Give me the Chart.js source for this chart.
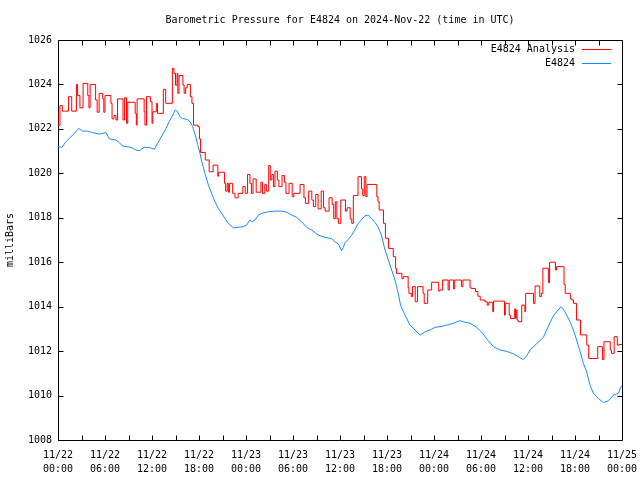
<!DOCTYPE html>
<html><head><meta charset="utf-8">
<script src="https://cdn.jsdelivr.net/npm/chart.js@4.4.1/dist/chart.umd.min.js"></script>
<style>html,body{margin:0;padding:0;background:#fff}canvas{display:block}</style>
</head><body>
<canvas id="c" width="640" height="480"></canvas>
<script>
const titleText = 'Barometric Pressure for E4824 on 2024-Nov-22 (time in UTC)';
const yAxisTitle = 'milliBars';
const seriesNames = ['E4824 Analysis', 'E4824'];
const seriesColors = ['#ff0000', '#1a8cff'];
const xTickHours = [0, 6, 12, 18, 24, 30, 36, 42, 48, 54, 60, 66, 72];
const xTickLabels = [
  ['11/22','00:00'], ['11/22','06:00'], ['11/22','12:00'], ['11/22','18:00'],
  ['11/23','00:00'], ['11/23','06:00'], ['11/23','12:00'], ['11/23','18:00'],
  ['11/24','00:00'], ['11/24','06:00'], ['11/24','12:00'], ['11/24','18:00'],
  ['11/25','00:00']
];
const xMinorHours = [3, 9, 15, 21, 27, 33, 39, 45, 51, 57, 63, 69];
const yTickValues = [1008, 1010, 1012, 1014, 1016, 1018, 1020, 1022, 1024, 1026];

// E4824 Analysis (hours since 11/22 00:00 UTC, stepped)
const redHours = [
  0.0, 0.25, 0.55, 1.35, 1.75, 2.35, 2.5, 2.8, 3.2, 3.8, 3.95, 4.1, 4.8, 5.0, 5.25, 5.7, 5.85, 6.0,
  6.75, 6.9, 7.15, 7.4, 7.6, 8.3, 8.5, 8.75, 8.9, 9.85, 10.0, 10.1, 11.0, 11.1, 11.3, 11.8, 12.0, 12.1,
  12.55, 12.7, 13.45, 13.75, 14.6, 14.8, 15.0, 15.2, 15.3, 15.45, 15.95, 16.1, 16.3, 16.5, 16.9, 17.1,
  17.3, 17.85, 18.05, 18.2, 18.8, 19.3, 19.8, 20.4, 20.5, 21.25, 21.4, 21.6, 21.75, 21.9, 22.3, 22.6,
  23.0, 23.6, 23.9, 24.2, 24.5, 24.7, 24.9, 25.3, 25.9, 26.1, 26.4, 26.6, 26.9, 27.1, 27.3, 27.5,
  27.7, 28.0, 28.2, 28.6, 28.9, 29.1, 29.5, 29.9, 30.1, 30.9, 31.4, 31.6, 32.0, 32.4, 32.6, 32.9,
  33.2, 33.6, 33.9, 34.1, 34.6, 35.0, 35.2, 35.4, 35.6, 35.8, 36.1, 36.7, 36.9, 37.3, 37.5, 37.7,
  38.3, 38.75, 38.9, 39.1, 39.3, 39.45, 40.7, 40.85, 41.0, 41.55, 41.8, 42.2, 42.8, 43.1, 43.2, 43.9,
  44.1, 44.7, 44.8, 45.1, 45.25, 45.6, 45.9, 46.6, 46.75, 47.2, 47.7, 48.6, 48.75, 49.1, 49.8, 49.95,
  50.5, 50.65, 51.5, 51.7, 52.6, 52.75, 53.3, 53.6, 53.9, 54.5, 54.8, 55.0, 55.5, 55.6, 57.0, 57.1,
  57.6, 57.75, 58.3, 58.4, 58.5, 58.6, 58.75, 59.2, 59.6, 59.7, 60.7, 60.9, 61.5, 61.7, 61.9, 62.6,
  62.75, 63.5, 63.65, 64.6, 64.75, 65.4, 65.6, 65.8, 66.2, 66.7, 67.5, 67.75, 68.9, 69.5, 69.7, 70.5,
  70.65, 71.0, 71.4, 71.6, 72.0
];
const redValues = [
  1022.8, 1022.15, 1023.05, 1022.8, 1023.45, 1022.8, 1024.0, 1023.5, 1022.95, 1024.05, 1023.5, 1022.95, 1024.0, 1023.3, 1022.75, 1023.6, 1023.35, 1022.75,
  1023.5, 1023.15, 1022.45, 1022.6, 1022.4, 1023.35, 1022.4, 1023.4, 1022.25, 1023.2, 1022.7, 1022.17, 1023.35, 1022.77, 1022.17, 1023.45, 1023.22, 1022.25,
  1022.77, 1023.15, 1022.7, 1023.78, 1023.15, 1024.73, 1024.5, 1023.97, 1024.5, 1023.6, 1024.4, 1023.97, 1023.6, 1023.85, 1024.0, 1023.45,
  1023.15, 1022.17, 1022.1, 1021.55, 1020.94, 1020.6, 1020.07, 1020.37, 1019.87, 1020.05, 1019.55, 1019.2, 1019.55, 1019.15, 1019.55, 1019.1,
  1018.9, 1019.1, 1019.4, 1019.1, 1019.95, 1019.55, 1019.1, 1019.75, 1019.15, 1019.6, 1019.1, 1019.5, 1019.2, 1020.35, 1019.7, 1019.95,
  1019.4, 1020.1, 1019.7, 1019.4, 1019.9, 1019.6, 1019.1, 1019.55, 1018.95, 1019.1, 1019.5, 1018.9, 1018.65, 1019.2, 1018.8, 1018.5,
  1019.05, 1018.4, 1019.2, 1018.45, 1018.3, 1018.9, 1018.6, 1017.97, 1018.72, 1017.97, 1017.75, 1018.8, 1018.3, 1018.45, 1017.95, 1017.75,
  1019.0, 1019.85, 1019.3, 1019.0, 1019.85, 1018.95, 1019.5, 1018.95, 1018.72, 1018.35, 1017.75, 1017.08, 1016.62, 1016.25, 1015.72, 1015.5,
  1015.27, 1015.35, 1014.85, 1014.6, 1014.45, 1014.9, 1014.22, 1014.9, 1014.6, 1014.15, 1014.75, 1015.1, 1014.7, 1014.75, 1015.2, 1014.75,
  1015.2, 1014.8, 1015.2, 1014.9, 1015.2, 1014.85, 1014.82, 1014.68, 1014.47, 1014.3, 1014.22, 1014.07, 1014.2, 1013.77, 1014.25, 1013.62,
  1014.15, 1013.62, 1013.47, 1013.9, 1013.47, 1013.85, 1013.4, 1013.32, 1014.07, 1013.77, 1014.6, 1014.15, 1014.93, 1014.45, 1014.6, 1015.73,
  1015.08, 1016.0, 1015.65, 1015.8, 1015.0, 1014.6, 1014.35, 1014.3, 1014.15, 1013.4, 1012.73, 1012.27, 1011.67, 1012.2, 1011.62, 1012.42,
  1012.05, 1011.9, 1012.65, 1012.27, 1012.3
];

// E4824 observations
const blueHours = [
  0, 0.5, 1.0, 1.66, 2.3, 2.64, 3.15, 3.79, 4.43, 5.28, 6.13, 6.55, 7.4, 7.83, 8.25, 9.32, 9.96, 10.4,
  11.0, 11.66, 12.3, 12.72, 13.15, 13.79, 14.2, 14.64, 14.98, 15.28, 15.57, 15.9, 16.55, 16.85, 17.2, 17.53,
  17.83, 18.13, 18.34, 18.76, 19.19, 19.6, 20.04, 20.47, 20.89, 21.32, 21.74, 22.38, 23.02, 23.66, 24.08, 24.5,
  24.8, 25.15, 25.57, 26.0, 26.85, 27.7, 28.55, 29.19, 29.83, 30.47, 31.1, 31.75, 32.38, 33.23, 34.09, 34.94,
  35.36, 35.79, 36.2, 36.43, 36.64, 37.06, 37.49, 37.91, 38.34, 38.76, 39.19, 39.62, 40.04, 40.47, 40.89, 41.32,
  41.74, 42.17, 42.6, 43.02, 43.44, 43.74, 44.3, 44.94, 45.58, 46.22, 46.85, 47.49, 48.13, 48.77, 49.62, 50.47,
  51.32, 51.75, 52.6, 53.45, 54.09, 54.73, 55.58, 56.43, 57.28, 58.13, 58.77, 59.4, 59.83, 60.26, 60.9, 61.53,
  61.96, 62.38, 62.81, 63.24, 63.66, 64.22, 64.51, 64.94, 65.36, 65.79, 66.21, 66.64, 67.07, 67.5, 67.92, 68.35,
  68.99, 69.62, 70.26, 70.9, 71.54, 71.84, 72.0
];
const blueValues = [
  1021.2, 1021.17, 1021.42, 1021.65, 1021.87, 1022.02, 1021.9, 1021.9, 1021.83, 1021.77, 1021.83, 1021.55, 1021.5, 1021.38, 1021.23, 1021.17, 1021.05, 1021.02,
  1021.17, 1021.17, 1021.08, 1021.35, 1021.62, 1022.02, 1022.33, 1022.62, 1022.85, 1022.77, 1022.55, 1022.47, 1022.42, 1022.33, 1022.1, 1021.72,
  1021.3, 1020.9, 1020.55, 1020.0, 1019.48, 1019.1, 1018.72, 1018.42, 1018.2, 1017.97, 1017.75, 1017.55, 1017.57, 1017.6, 1017.67, 1017.9,
  1017.82, 1017.9, 1018.12, 1018.2, 1018.27, 1018.3, 1018.3, 1018.25, 1018.12, 1018.02, 1017.82, 1017.57, 1017.45, 1017.22, 1017.12, 1017.06,
  1016.92, 1016.82, 1016.52, 1016.67, 1016.88, 1017.03, 1017.22, 1017.47, 1017.75, 1017.92, 1018.09, 1018.12, 1017.97, 1017.79, 1017.57, 1017.18,
  1016.55, 1016.1, 1015.65, 1015.2, 1014.6, 1014.05, 1013.62, 1013.17, 1012.95, 1012.72, 1012.87, 1012.95, 1013.07, 1013.1, 1013.17, 1013.25,
  1013.37, 1013.32, 1013.25, 1013.07, 1012.85, 1012.55, 1012.2, 1012.05, 1011.99, 1011.88, 1011.75, 1011.62, 1011.78, 1012.05, 1012.27, 1012.47,
  1012.62, 1012.95, 1013.28, 1013.58, 1013.77, 1014.0, 1013.88, 1013.62, 1013.32, 1012.95, 1012.5, 1012.0, 1011.45, 1011.05, 1010.47, 1010.1,
  1009.87, 1009.68, 1009.77, 1010.02, 1010.1, 1010.37, 1010.45
];

const FONT = "'DejaVu Sans Mono', 'Liberation Mono', monospace";
Chart.defaults.font.family = FONT;
Chart.defaults.font.size = 10;
Chart.defaults.color = '#000';

const toXY = (xs, ys) => xs.map((x, i) => ({x: x, y: ys[i]}));

const framePlugin = {
  id: 'frame',
  beforeDatasetsDraw(chart) {
    const ctx = chart.ctx, a = chart.chartArea;
    const xs = chart.scales.x, ys = chart.scales.y;
    const L = 5;
    ctx.save();
    ctx.strokeStyle = '#000';
    ctx.lineWidth = 1;
    ctx.beginPath();
    const l = Math.round(a.left) + 0.5, r = Math.round(a.right) + 0.5;
    const t = Math.round(a.top) + 0.5, b = Math.round(a.bottom) + 0.5;
    ctx.rect(l, t, r - l, b - t);
    xTickHours.concat(xMinorHours).forEach(h => {
      const px = Math.round(xs.getPixelForValue(h)) + 0.5;
      ctx.moveTo(px, b); ctx.lineTo(px, b - L);
      ctx.moveTo(px, t); ctx.lineTo(px, t + L);
    });
    yTickValues.forEach(v => {
      const py = Math.round(ys.getPixelForValue(v)) + 0.5;
      ctx.moveTo(l, py); ctx.lineTo(l + L, py);
      ctx.moveTo(r, py); ctx.lineTo(r - L, py);
    });
    ctx.stroke();
    ctx.restore();
  },
  afterDraw(chart) {
    const ctx = chart.ctx;
    ctx.save();
    ctx.font = '10px ' + FONT;
    ctx.textAlign = 'right';
    ctx.textBaseline = 'middle';
    chart.data.datasets.forEach((ds, i) => {
      const y = 49 + i * 14;
      ctx.fillStyle = '#000';
      ctx.fillText(ds.label, 575, y);
      ctx.fillStyle = seriesColors[i];
      ctx.fillRect(582, y, 29, 1);
    });
    ctx.restore();
  }
};

new Chart(document.getElementById('c'), {
  type: 'line',
  data: {
    datasets: [
      { label: seriesNames[0], data: toXY(redHours, redValues), borderColor: seriesColors[0],
        borderWidth: 1, pointRadius: 0, stepped: 'after', fill: false },
      { label: seriesNames[1], data: toXY(blueHours, blueValues), borderColor: seriesColors[1],
        borderWidth: 1, pointRadius: 0, tension: 0, fill: false }
    ]
  },
  options: {
    responsive: false,
    animation: false,
    events: [],
    layout: { padding: { left: 0, right: 18, top: 0, bottom: 0 } },
    plugins: {
      legend: { display: false },
      tooltip: { enabled: false },
      title: {
        display: true, text: titleText, fullSize: false,
        font: { size: 10, weight: 'normal', family: FONT },
        padding: { top: 14, bottom: 14 }, color: '#000'
      }
    },
    scales: {
      x: {
        type: 'linear', min: 0, max: 72,
        grid: { display: false, drawTicks: false },
        border: { display: false },
        afterBuildTicks: s => { s.ticks = xTickHours.map(v => ({ value: v })); },
        afterFit: s => { s.height = 40; s.paddingLeft = 0; s.paddingRight = 0; },
        ticks: {
          autoSkip: false, maxRotation: 0, minRotation: 0, padding: 8,
          font: { size: 10, family: FONT, lineHeight: 1.4 },
          callback: v => { const i = xTickHours.indexOf(v); return i >= 0 ? xTickLabels[i] : ''; }
        }
      },
      y: {
        type: 'linear', min: 1008, max: 1026,
        grid: { display: false, drawTicks: false },
        border: { display: false },
        afterBuildTicks: s => { s.ticks = yTickValues.map(v => ({ value: v })); },
        afterFit: s => { s.width = 58; s.paddingTop = 0; s.paddingBottom = 0; },
        ticks: { padding: 6, font: { size: 10, family: FONT }, callback: v => String(v) },
        title: { display: true, text: yAxisTitle, font: { size: 10, family: FONT }, padding: { top: 4, bottom: 0 } }
      }
    }
  },
  plugins: [framePlugin]
});
</script>
</body></html>
